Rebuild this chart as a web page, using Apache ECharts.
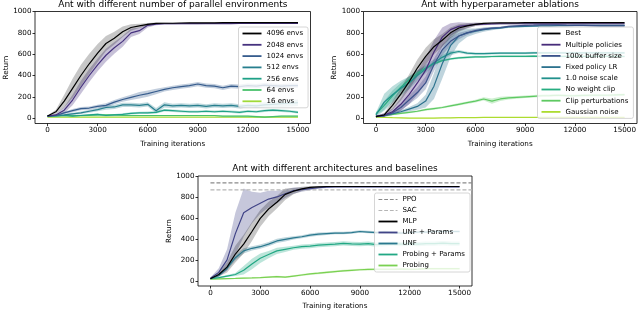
<!DOCTYPE html>
<html><head><meta charset="utf-8">
<script src="https://cdn.jsdelivr.net/npm/echarts@6/dist/echarts.min.js"></script>
<style>html,body{margin:0;padding:0;background:#fff}#c{width:640px;height:311px}</style>
</head><body><div id="c"></div>
<script>
// ---- data ----
const X = [0,500,1000,1500,2000,2500,3000,3500,4000,4500,5000,5500,6000,6500,7000,7500,8000,8500,9000,9500,10000,10500,11000,11500,12000,12500,13000,13500,14000,14500,15000];
const xTicks = [0,3000,6000,9000,12000,15000];
const yTicks = [0,200,400,600,800,1000];

// Panel 1: parallel environments
const env4096 = [20,60,160,280,400,510,610,700,750,810,850,865,880,888,890,890,892,893,893,894,894,895,895,895,895,896,896,896,896,896,896];
const env4096Spread = [5,20,60,90,100,95,85,70,60,50,30,20,12,8,6,5,5,5,5,5,5,5,5,5,5,5,5,5,5,5,5];
const env2048 = [20,30,75,170,290,400,500,590,660,720,800,820,870,882,885,885,886,886,886,887,887,887,887,888,888,888,888,888,888,888,888];
const env2048Spread = [5,10,30,50,60,60,60,60,55,50,40,30,20,10,8,6,5,5,5,5,5,5,5,5,5,5,5,5,5,5,5];
const env1024 = [20,25,50,70,90,95,110,120,150,175,195,215,230,250,270,285,295,305,320,305,300,285,300,295,305,300,310,305,300,305,305];
const env1024Spread = [3,5,10,15,15,15,15,20,20,20,25,30,30,25,20,20,20,20,20,20,20,20,20,20,20,20,20,20,20,20,20];
const env512 = [20,25,30,40,50,65,80,100,105,125,125,120,130,70,125,115,120,115,120,110,120,115,120,110,120,115,125,130,135,140,145];
const env512Spread = [3,5,8,10,12,15,15,20,20,20,20,20,20,25,25,20,20,20,20,20,20,20,20,20,20,20,25,25,30,30,30];
const env256 = [20,20,25,20,25,30,35,25,30,35,45,50,50,55,75,70,65,60,60,65,60,65,60,55,65,60,70,75,70,65,55];
const env256Spread = [5,8,8,8,10,10,10,10,10,10,10,10,12,12,12,12,12,12,12,12,12,12,12,12,12,12,12,12,12,12,12];
const env64 = [25,25,25,25,25,25,30,30,30,25,25,25,25,25,25,25,25,25,25,25,25,20,20,20,20,15,10,15,20,20,20];
const env64Spread = [4,4,4,4,4,4,5,5,5,5,5,5,5,5,5,5,5,5,5,5,5,5,5,5,5,8,8,5,5,5,5];
const env16 = [10,10,10,10,10,10,10,10,10,10,10,10,10,10,10,10,10,10,10,10,10,10,10,10,10,10,10,10,10,10,10];
const env16Spread = [3,3,3,3,3,3,3,3,3,3,3,3,3,3,3,3,3,3,3,3,3,3,3,3,3,3,3,3,3,3,3];

// Panel 2: hyperparameter ablations
const best = [15,30,120,225,340,470,580,670,730,800,845,865,880,888,892,893,894,894,895,895,895,895,896,896,896,896,896,896,896,896,896];
const bestSpread = [5,15,40,60,70,80,80,70,60,50,35,25,15,10,8,6,5,5,5,5,5,5,5,5,5,5,5,5,5,5,5];
const multiPol = [20,30,60,130,220,330,450,620,760,830,860,870,880,882,884,885,885,885,885,885,885,885,885,885,885,885,885,885,885,885,885];
const multiPolSpread = [5,15,30,60,90,110,120,110,90,60,40,25,15,10,8,6,5,5,5,5,5,5,5,5,5,5,5,5,5,5,5];
const buffer100 = [15,20,50,100,170,240,330,500,640,720,770,800,820,835,845,850,860,865,870,872,875,875,875,872,870,870,868,866,865,865,865];
const buffer100Spread = [5,10,20,30,40,50,60,60,50,40,30,20,15,12,10,10,8,8,8,8,8,8,8,8,8,8,8,8,8,8,8];
const fixedLR = [15,25,40,60,85,110,160,300,510,680,770,800,815,830,840,845,855,858,860,862,865,866,867,868,869,870,870,870,870,870,870];
const fixedLRSpread = [5,8,12,15,20,30,60,120,140,110,70,40,25,20,15,10,10,8,8,8,8,8,8,8,8,8,8,8,8,8,8];
const noise1 = [30,150,220,280,330,400,460,520,570,610,625,610,605,605,608,610,610,610,610,612,612,612,612,612,612,612,612,612,612,612,612];
const noise1Spread = [20,80,80,70,60,50,40,30,25,20,15,12,10,10,10,10,10,10,10,10,10,10,10,10,10,10,10,10,10,10,10];
const noClip = [40,120,210,290,360,420,470,510,540,555,565,570,575,575,578,580,580,580,580,582,580,580,578,580,580,580,580,580,580,580,578];
const noClipSpread = [15,40,50,40,30,25,20,15,12,10,10,10,10,10,10,10,10,10,10,10,10,10,10,10,10,10,10,10,10,10,10];
const clipPert = [20,25,35,45,55,65,80,90,100,115,130,145,160,180,160,180,190,195,200,205,210,212,215,212,210,213,215,215,215,218,220];
const clipPertSpread = [5,5,8,8,10,10,10,10,10,10,12,12,12,15,25,20,15,12,12,12,12,12,12,12,12,12,12,12,12,12,12];
const gaussNoise = [10,8,5,3,0,0,0,0,2,3,5,5,5,8,8,8,8,8,8,8,8,8,8,8,8,8,8,8,8,8,8];
const gaussNoiseSpread = [3,3,3,3,3,3,3,3,3,3,3,3,3,3,3,3,3,3,3,3,3,3,3,3,3,3,3,3,3,3,3];

// Panel 3: architectures and baselines
const ppoLevel = 935;
const sacLevel = 868;
const baselineX = [0,15750];
const mlp = [20,60,130,255,350,470,595,685,750,825,855,877,892,897,900,900,900,900,900,900,900,900,900,900,900,900,900,900,900,900,900];
const mlpSpread = [5,20,50,80,90,90,80,70,60,55,30,20,12,8,5,5,5,5,5,5,5,5,5,5,5,5,5,5,5,5,5];
const unfParams = [25,80,200,450,650,700,740,780,800,830,860,870,880,888,893,895,895,895,895,895,895,895,895,895,895,895,895,895,895,895,895];
const unfParamsSpread = [5,40,100,200,230,150,100,80,60,40,30,20,15,10,8,6,5,5,5,5,5,5,5,5,5,5,5,5,5,5,5];
const unf = [20,50,120,220,285,310,325,350,380,395,410,420,435,445,450,455,455,460,470,465,460,465,460,455,460,465,465,470,470,470,470];
const unfSpread = [5,10,20,25,25,20,20,20,20,20,15,15,15,15,12,12,12,12,12,12,12,12,12,12,12,12,12,12,12,12,12];
const probParams = [20,30,45,60,100,160,215,250,285,300,315,325,330,340,345,350,357,352,350,355,345,350,355,350,355,350,355,355,360,355,355];
const probParamsSpread = [5,5,10,15,40,50,45,35,30,25,20,20,20,20,20,20,20,20,20,20,20,20,20,20,20,20,20,20,20,20,20];
const probing = [15,18,20,22,25,27,30,35,40,35,45,55,65,72,80,88,95,100,105,108,110,110,110,112,110,112,115,115,115,115,115];
const probingSpread = [5,5,5,5,5,5,6,8,8,8,8,10,10,10,10,10,10,10,10,10,10,10,10,10,10,10,10,10,10,10,10];

// ---- chart ----
const FONT = 'DejaVu Sans';
const chart = echarts.init(document.getElementById('c'), null, {renderer:'canvas'});

function band(gi, mean, spread, color, op) {
  return {
    type:'custom', xAxisIndex:gi, yAxisIndex:gi, silent:true, z:1, data:[[0,0]],
    renderItem:(params, api) => {
      const up = X.map((x,i)=>api.coord([x, mean[i]+spread[i]]));
      const lo = X.map((x,i)=>api.coord([x, mean[i]-spread[i]])).reverse();
      return {type:'polygon', shape:{points:up.concat(lo)}, style:{fill:color, opacity:op}};
    }
  };
}
function line(name, gi, ys, color, opts) {
  opts = opts || {};
  const xs = opts.xs || X;
  return {
    type:'line', name, xAxisIndex:gi, yAxisIndex:gi, showSymbol:false, symbol:'none', z:2,
    data: xs.map((x,i)=>[x, ys[i]]),
    lineStyle:{color, width:opts.width||1.2, type:opts.dash?[4,2]:'solid'},
    itemStyle:{color}, silent:true
  };
}

const grids = [
  {left:35, top:11.5, width:275.5, height:112},
  {left:363.5, top:11.5, width:273.5, height:112},
  {left:198, top:176, width:274, height:113.5}
];
const xAxes = grids.map((g,i)=>({
  type:'value', gridIndex:i, min:-750, max:15750,
  name:'Training iterations', nameLocation:'middle', nameGap:17,
  nameTextStyle:{fontFamily:FONT, fontSize:7.2, color:'#000'},
  axisLine:{show:false, onZero:false}, splitLine:{show:false},
  axisTick:{show:true, length:2.5, lineStyle:{color:'#000', width:0.8}, customValues:xTicks},
  axisLabel:{fontFamily:FONT, fontSize:7.2, color:'#000', margin:3.5, customValues:xTicks, formatter:v=>String(v)}
}));
const yAxes = grids.map((g,i)=>({
  type:'value', gridIndex:i, min:-50, max:1000,
  name:'Return', nameLocation:'middle', nameGap:24, nameRotate:90,
  nameTextStyle:{fontFamily:FONT, fontSize:7.2, color:'#000'},
  axisLine:{show:false, onZero:false}, splitLine:{show:false},
  axisTick:{show:true, length:2.5, lineStyle:{color:'#000', width:0.8}, customValues:yTicks},
  axisLabel:{fontFamily:FONT, fontSize:7.2, color:'#000', margin:3.5, customValues:yTicks, formatter:v=>String(v)}
}));

const C = {
  v1:'#46327e', v2:'#365c8d', v3:'#277f8e', v4:'#1fa187', v5:'#4ac16d', v6:'#a0da39',
  h1:'#472c7a', h2:'#3b528b', h3:'#2c728e', h4:'#21918c', h5:'#27ad81', h6:'#5ec962', h7:'#addc30',
  a1:'#414487', a2:'#2a788e', a3:'#22a884', a4:'#7ad151'
};
const BA = 0.3;
const series = [
  band(0, env16, env16Spread, C.v6, BA), band(0, env64, env64Spread, C.v5, BA),
  band(0, env256, env256Spread, C.v4, BA), band(0, env512, env512Spread, C.v3, BA),
  band(0, env1024, env1024Spread, C.v2, BA), band(0, env2048, env2048Spread, C.v1, BA),
  band(0, env4096, env4096Spread, '#000', 0.22),
  line('16 envs',0,env16,C.v6), line('64 envs',0,env64,C.v5), line('256 envs',0,env256,C.v4),
  line('512 envs',0,env512,C.v3), line('1024 envs',0,env1024,C.v2), line('2048 envs',0,env2048,C.v1),
  line('4096 envs',0,env4096,'#000'),

  band(1, gaussNoise, gaussNoiseSpread, C.h7, BA), band(1, clipPert, clipPertSpread, C.h6, BA),
  band(1, noClip, noClipSpread, C.h5, BA), band(1, noise1, noise1Spread, C.h4, BA),
  band(1, fixedLR, fixedLRSpread, C.h3, BA), band(1, buffer100, buffer100Spread, C.h2, BA),
  band(1, multiPol, multiPolSpread, C.h1, BA), band(1, best, bestSpread, '#000', 0.22),
  line('Gaussian noise',1,gaussNoise,C.h7), line('Clip perturbations',1,clipPert,C.h6),
  line('No weight clip',1,noClip,C.h5), line('1.0 noise scale',1,noise1,C.h4),
  line('Fixed policy LR',1,fixedLR,C.h3), line('100x buffer size',1,buffer100,C.h2),
  line('Multiple policies',1,multiPol,C.h1), line('Best',1,best,'#000'),

  band(2, probing, probingSpread, C.a4, BA), band(2, probParams, probParamsSpread, C.a3, BA),
  band(2, unf, unfSpread, C.a2, BA), band(2, unfParams, unfParamsSpread, C.a1, BA),
  band(2, mlp, mlpSpread, '#000', 0.22),
  line('PPO',2,[ppoLevel,ppoLevel],'#8a8a8a',{xs:baselineX,dash:true}),
  line('SAC',2,[sacLevel,sacLevel],'#b5b5b5',{xs:baselineX,dash:true}),
  line('Probing',2,probing,C.a4), line('Probing + Params',2,probParams,C.a3),
  line('UNF',2,unf,C.a2), line('UNF + Params',2,unfParams,C.a1),
  line('MLP',2,mlp,'#000')
];

const dashIcon = 'path://M0,0h4v1h-4zM6,0h4v1h-4zM12,0h4v1h-4zM18,0h2v1h-2z';
function legend(left, top, names, gap) {
  return {
    left, top, orient:'vertical', selectedMode:false,
    data: names.map(n => (n==='PPO'||n==='SAC') ? {name:n, icon:dashIcon} : {name:n}),
    icon:'rect', itemWidth:19, itemHeight:1.8, itemGap:gap,
    padding:[2,5,2,4], backgroundColor:'rgba(255,255,255,0.8)',
    borderColor:'#cccccc', borderWidth:0.8, borderRadius:2,
    textStyle:{fontFamily:FONT, fontSize:7, color:'#000', lineHeight:9}
  };
}

chart.setOption({
  animation:false,
  textStyle:{fontFamily:FONT},
  title:[
    {text:'Ant with different number of parallel environments', left:172.8, top:0.5, textAlign:'center', padding:0,
     textStyle:{fontFamily:FONT, fontSize:9, fontWeight:'normal', color:'#000'}},
    {text:'Ant with hyperparameter ablations', left:500, top:0.5, textAlign:'center', padding:0,
     textStyle:{fontFamily:FONT, fontSize:9, fontWeight:'normal', color:'#000'}},
    {text:'Ant with different architectures and baselines', left:335, top:164, textAlign:'center', padding:0,
     textStyle:{fontFamily:FONT, fontSize:9, fontWeight:'normal', color:'#000'}}
  ],
  grid: grids.map(g=>Object.assign({show:true, borderColor:'#000', borderWidth:0.8, backgroundColor:'transparent'}, g)),
  xAxis: xAxes, yAxis: yAxes,
  legend:[
    legend(238.5, 27, ['4096 envs','2048 envs','1024 envs','512 envs','256 envs','64 envs','16 envs'], 2.3),
    legend(537.5, 27, ['Best','Multiple policies','100x buffer size','Fixed policy LR','1.0 noise scale','No weight clip','Clip perturbations','Gaussian noise'], 2.2),
    legend(374.5, 193, ['PPO','SAC','MLP','UNF + Params','UNF','Probing + Params','Probing'], 2)
  ],
  series
});
</script></body></html>
